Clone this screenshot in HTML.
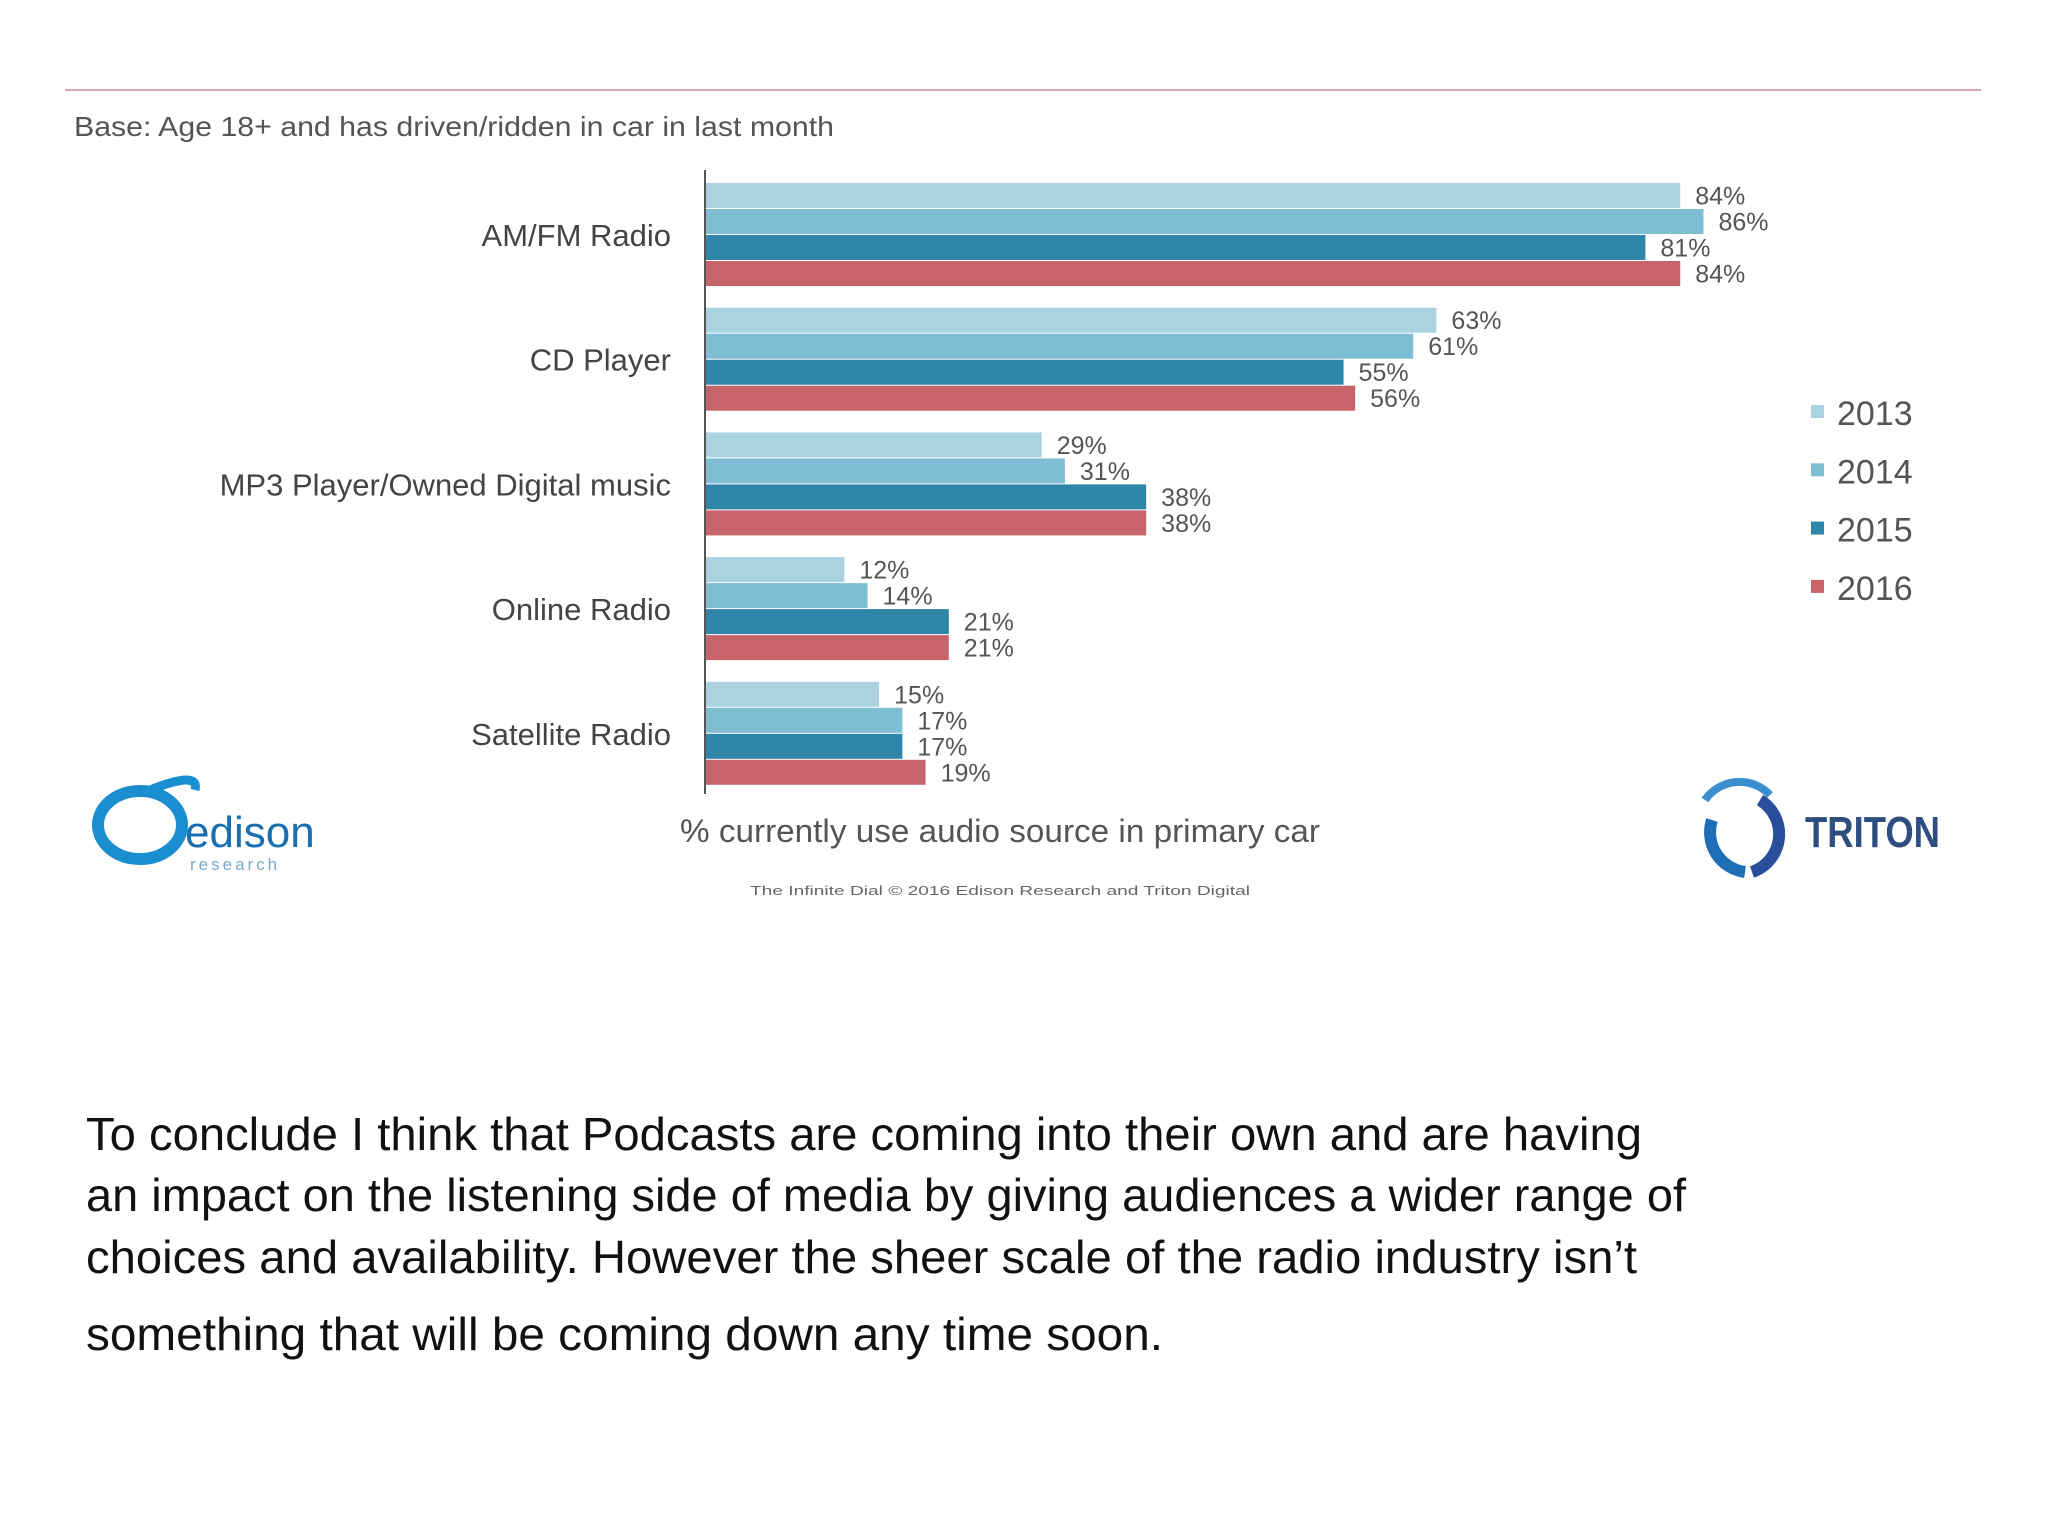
<!DOCTYPE html>
<html><head><meta charset="utf-8"><style>
html,body{margin:0;padding:0;background:#fff;}
svg{display:block;font-family:"Liberation Sans",sans-serif;}
</style></head><body>
<svg id="chart" width="2048" height="1536" viewBox="0 0 2048 1536">
<line x1="65" y1="90" x2="1981" y2="90" stroke="#d9a7ad" stroke-width="2"/>
<text x="74" y="136" font-size="28" fill="#555" textLength="760" lengthAdjust="spacingAndGlyphs">Base: Age 18+ and has driven/ridden in car in last month</text>
<g id="bars"></g>
<g id="cats"></g>
<g id="vals"></g>
<line x1="705" y1="170" x2="705" y2="794" stroke="#555" stroke-width="2"/>
<g id="legend"></g>
<text x="1000" y="842" font-size="32" fill="#555" text-anchor="middle" textLength="640" lengthAdjust="spacingAndGlyphs">% currently use audio source in primary car</text>
<text x="1000" y="895" font-size="13" fill="#666" text-anchor="middle" textLength="500" lengthAdjust="spacingAndGlyphs">The Infinite Dial  © 2016 Edison Research and Triton Digital</text>
<g>
<ellipse cx="140" cy="825" rx="42" ry="34" fill="none" stroke="#1a8fd0" stroke-width="12"/>
<path d="M150 790 Q200 770 195 790" stroke="#1a8fd0" stroke-width="9" fill="none"/>
<text x="185" y="847" font-size="44" fill="#1a6fb0">edison</text>
<text x="190" y="870" font-size="17" fill="#7aa9c8" letter-spacing="3">research</text>
</g>
<g>
<path d="M1712 820 A40 40 0 0 0 1745 872" stroke="#1f6fb6" stroke-width="12" fill="none"/>
<path d="M1760 800 A40 40 0 0 1 1752 872" stroke="#2a4f9a" stroke-width="12" fill="none"/>
<path d="M1705 800 A42 42 0 0 1 1770 795" stroke="#3b8fd0" stroke-width="8" fill="none"/>
<text x="1805" y="847" font-size="44" font-weight="bold" fill="#2d4e7f" textLength="135" lengthAdjust="spacingAndGlyphs">TRITON</text>
</g>
<g font-size="46" fill="#111">
<text x="86" y="1150" textLength="1556" lengthAdjust="spacingAndGlyphs">To conclude I think that Podcasts are coming into their own and are having</text>
<text x="86" y="1211" textLength="1600" lengthAdjust="spacingAndGlyphs">an impact on the listening side of media by giving audiences a wider range of</text>
<text x="86" y="1273" textLength="1551" lengthAdjust="spacingAndGlyphs">choices and availability. However the sheer scale of the radio industry isn’t</text>
<text x="86" y="1350" textLength="1077" lengthAdjust="spacingAndGlyphs">something that will be coming down any time soon.</text>
</g>
</svg>
<script>
const categories=["AM/FM Radio","CD Player","MP3 Player/Owned Digital music","Online Radio","Satellite Radio"];
const years=["2013","2014","2015","2016"];
const s2013=[84,63,29,12,15];
const s2014=[86,61,31,14,17];
const s2015=[81,55,38,21,17];
const s2016=[84,56,38,21,19];
const series=[s2013,s2014,s2015,s2016];
const colors=["#a9d3e0","#7fbdd4","#2f86a8","#c7636a"];
const NS="http://www.w3.org/2000/svg";
const x0=705,pxPer=11.61,gTop=183,gStep=124.7,bH=25,bStep=26;
const xs=v=>x0+v*pxPer;
const bars=document.getElementById('bars'),cats=document.getElementById('cats'),vals=document.getElementById('vals'),leg=document.getElementById('legend');
categories.forEach((c,g)=>{
  const top=gTop+g*gStep;
  const t=document.createElementNS(NS,'text');
  t.setAttribute('x',671);t.setAttribute('y',top+52+11);t.setAttribute('text-anchor','end');
  t.setAttribute('font-size','31');t.setAttribute('fill','#444');t.textContent=c;
  
  
  cats.appendChild(t);
  series.forEach((s,i)=>{
    const y=top+i*bStep;
    const r=document.createElementNS(NS,'rect');
    r.setAttribute('x',x0);r.setAttribute('y',y);r.setAttribute('width',xs(s[g])-x0);r.setAttribute('height',bH);
    r.setAttribute('fill',colors[i]);
    
    
    bars.appendChild(r);
    const l=document.createElementNS(NS,'text');
    l.setAttribute('x',xs(s[g])+15);l.setAttribute('y',y+bH/2+9);
    l.setAttribute('font-size','25');l.setAttribute('fill','#555');l.textContent=s[g]+'%';
    
    
    vals.appendChild(l);
  });
});
years.forEach((yr,i)=>{
  const y=413+i*58.3;
  const r=document.createElementNS(NS,'rect');
  r.setAttribute('x',1811);r.setAttribute('y',y-8);r.setAttribute('width',13);r.setAttribute('height',13);r.setAttribute('fill',colors[i]);
  
  
  leg.appendChild(r);
  const t=document.createElementNS(NS,'text');
  t.setAttribute('x',1837);t.setAttribute('y',y+12);t.setAttribute('font-size','34');t.setAttribute('fill','#555');t.textContent=yr;
  
  
  leg.appendChild(t);
});
</script>
</body></html>
